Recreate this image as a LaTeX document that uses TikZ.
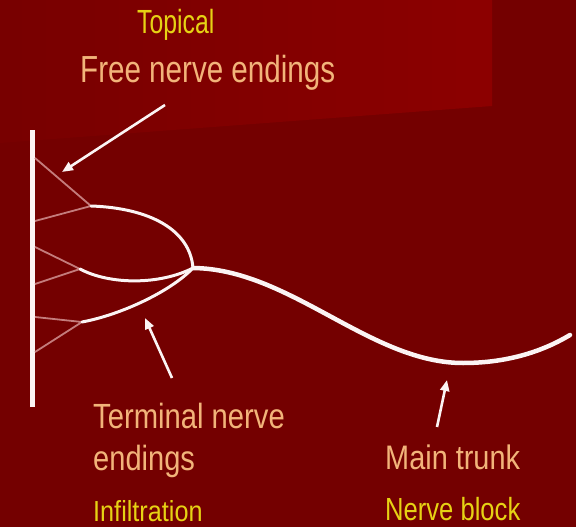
\documentclass[tikz,border=0pt]{standalone}
\usepackage{fontspec}
\setmainfont{Liberation Sans}
\usetikzlibrary{arrows.meta}
\definecolor{bgred}{HTML}{740000}
\definecolor{panelred}{HTML}{8C0000}
\definecolor{peach}{HTML}{F2B47A}
\definecolor{labelyellow}{HTML}{E6D214}
\definecolor{fibre}{HTML}{C47C7C}
\definecolor{nervewhite}{HTML}{FBF4F4}
\tikzset{
  lbl/.style n args={3}{anchor=base west, inner sep=0pt,
    font=\fontsize{#1}{#1}\selectfont, text=#3},
  fibreline/.style={draw=fibre, line width=1.8pt},
  nerve/.style={draw=nervewhite, line width=3pt, line cap=round},
  trunk/.style={draw=nervewhite, line width=4.5pt, line cap=round},
  pointer/.style={draw=nervewhite, line width=2.6pt,
    -{Triangle[length=11pt,width=9pt]}},
}
\newcommand{\sx}[2]{\scalebox{#1}[1]{#2}}
\begin{document}
\begin{tikzpicture}[x=1pt,y=-1pt]
  \useasboundingbox (0,0) rectangle (576,527);
  % backdrop
  \fill[bgred] (0,0) rectangle (576,527);
  \shade[left color=bgred!85!panelred, right color=panelred]
    (0,0) -- (492,0) -- (492,106) -- (0,143) -- cycle;

  % skin surface
  \draw[draw=nervewhite, line width=5pt] (32,130) -- (32,407);

  % junctions of the nerve branches
  \coordinate (j1) at (91,206);
  \coordinate (j2) at (80,269);
  \coordinate (j3) at (82,322);
  \coordinate (hub) at (193,268);
  \coordinate (low) at (463,363);
  \coordinate (tip) at (570,335);

  % free endings on the surface
  \foreach \n/\y in {a/158,b/221,c/247,d/284,e/317,f/352}
    \coordinate (w\n) at (35,\y);
  \draw[fibreline] (wa) -- (j1) -- (wb);
  \draw[fibreline] (wc) -- (j2) -- (wd);
  \draw[fibreline] (we) -- (j3) -- (wf);

  % terminal branches
  \draw[nerve] (j1) .. controls (150,208) and (190,230) .. (hub);
  \draw[nerve] (j2) .. controls (110,285) and (160,285) .. (hub);
  \draw[nerve] (j3) .. controls (120,315) and (170,292) .. (hub);

  % main trunk
  \draw[trunk] (hub) .. controls (290,269) and (370,363) .. (low)
               .. controls (510,363) and (545,350) .. (tip);

  % labels
  \node[lbl={33.5}{}{labelyellow}] (topical) at (137,34) {\sx{0.74}{Topical}};
  \node[lbl={37.7}{}{peach}] (free) at (80,82) {\sx{0.785}{Free nerve endings}};
  \node[lbl={35}{}{peach}] (term) at (93,428) {\sx{0.835}{Terminal nerve}};
  \node[lbl={35}{}{peach}] (term2) at (93,470) {\sx{0.83}{endings}};
  \node[lbl={29}{}{labelyellow}] (infil) at (93,521) {\sx{0.87}{Infiltration}};
  \node[lbl={34}{}{peach}] (main) at (385,469) {\sx{0.85}{Main trunk}};
  \node[lbl={32}{}{labelyellow}] (block) at (385,520) {\sx{0.8}{Nerve block}};

  % pointers
  \coordinate (p1s) at (165,105);
  \coordinate (p1e) at (62,172);
  \coordinate (p2s) at (172,378);
  \coordinate (p2e) at (145,318);
  \coordinate (p3s) at (437,427);
  \coordinate (p3e) at (447,380);
  \draw[pointer] (p1s) -- (p1e);
  \draw[pointer] (p2s) -- (p2e);
  \draw[pointer] (p3s) -- (p3e);
\end{tikzpicture}
\end{document}
